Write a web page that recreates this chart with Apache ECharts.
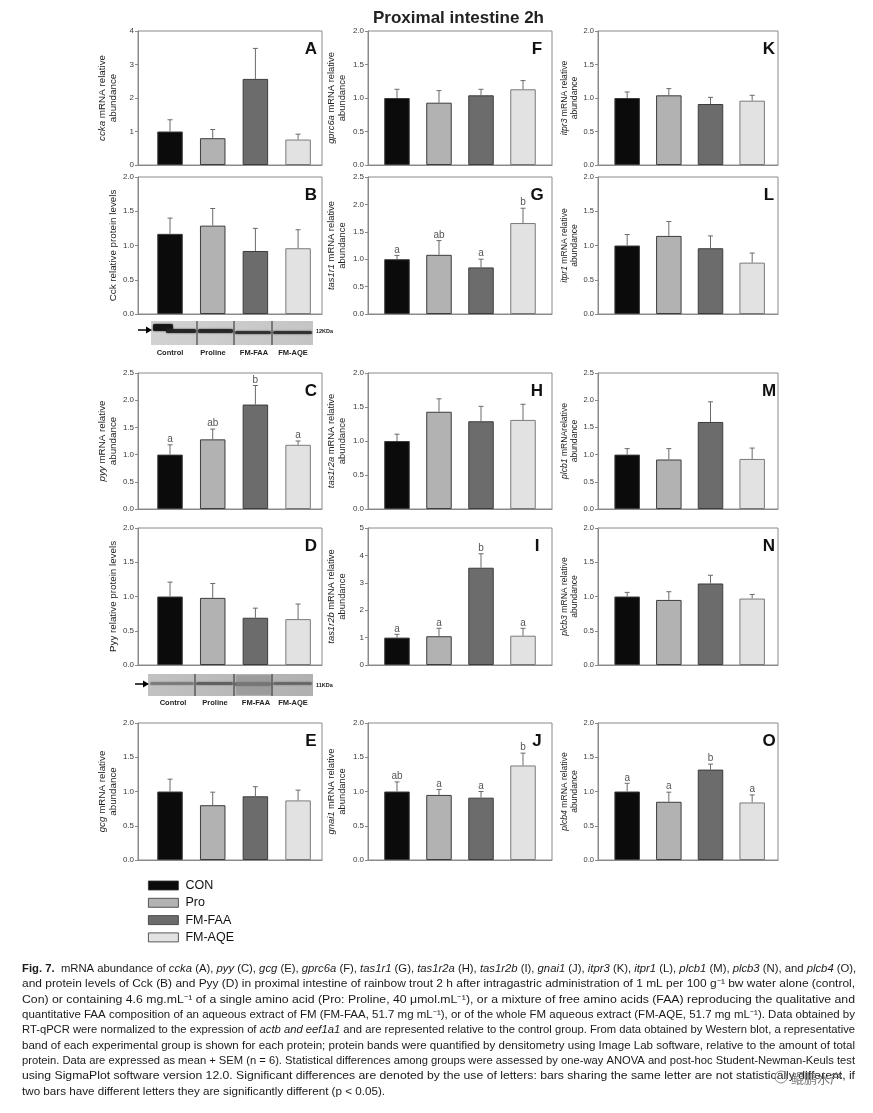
<!DOCTYPE html>
<html><head><meta charset="utf-8">
<script src="https://cdn.jsdelivr.net/npm/echarts@6/dist/echarts.min.js"></script>
<style>html,body{margin:0;padding:0;background:#fff}#c{width:873px;height:1113px}</style>
</head><body><div id="c"></div>
<script>
// ---------- data ----------
const groups = ['CON', 'Pro', 'FM-FAA', 'FM-AQE'];
const blotLanes = ['Control', 'Proline', 'FM-FAA', 'FM-AQE'];

const cckaMean = [1.00, 0.80, 2.57, 0.76];   const cckaSem = [0.35, 0.26, 0.91, 0.16];
const cckProtMean = [1.17, 1.29, 0.92, 0.96]; const cckProtSem = [0.23, 0.25, 0.33, 0.27];
const pyyMean = [1.00, 1.28, 1.92, 1.18];    const pyySem = [0.18, 0.19, 0.35, 0.07];
const pyyLetters = ['a', 'ab', 'b', 'a'];
const pyyProtMean = [1.00, 0.98, 0.69, 0.67]; const pyyProtSem = [0.21, 0.21, 0.14, 0.22];
const gcgMean = [1.00, 0.80, 0.93, 0.87];    const gcgSem = [0.18, 0.19, 0.14, 0.15];
const gprc6aMean = [1.00, 0.93, 1.04, 1.13]; const gprc6aSem = [0.13, 0.18, 0.09, 0.13];
const tas1r1Mean = [1.00, 1.08, 0.85, 1.66]; const tas1r1Sem = [0.07, 0.26, 0.15, 0.27];
const tas1r1Letters = ['a', 'ab', 'a', 'b'];
const tas1r2aMean = [1.00, 1.43, 1.29, 1.31]; const tas1r2aSem = [0.10, 0.19, 0.22, 0.23];
const tas1r2bMean = [1.00, 1.05, 3.55, 1.07]; const tas1r2bSem = [0.12, 0.29, 0.51, 0.27];
const tas1r2bLetters = ['a', 'a', 'b', 'a'];
const gnai1Mean = [1.00, 0.95, 0.91, 1.38];  const gnai1Sem = [0.14, 0.08, 0.09, 0.18];
const gnai1Letters = ['ab', 'a', 'a', 'b'];
const itpr3Mean = [1.00, 1.04, 0.91, 0.96];  const itpr3Sem = [0.09, 0.10, 0.10, 0.08];
const itpr1Mean = [1.00, 1.14, 0.96, 0.75];  const itpr1Sem = [0.16, 0.21, 0.18, 0.14];
const plcb1Mean = [1.00, 0.91, 1.60, 0.92];  const plcb1Sem = [0.11, 0.20, 0.37, 0.20];
const plcb3Mean = [1.00, 0.95, 1.19, 0.97];  const plcb3Sem = [0.06, 0.12, 0.12, 0.06];
const plcb4Mean = [1.00, 0.85, 1.32, 0.84];  const plcb4Sem = [0.12, 0.14, 0.08, 0.11];
const plcb4Letters = ['a', 'a', 'b', 'a'];

const yMaxA = 4, yMaxI = 5;

const captionLines = [
  '{b|Fig. 7.}  mRNA abundance of {i|ccka} (A), {i|pyy} (C), {i|gcg} (E), {i|gprc6a} (F), {i|tas1r1} (G), {i|tas1r2a} (H), {i|tas1r2b} (I), {i|gnai1} (J), {i|itpr3} (K), {i|itpr1} (L), {i|plcb1} (M), {i|plcb3} (N), and {i|plcb4} (O),',
  'and protein levels of Cck (B) and Pyy (D) in proximal intestine of rainbow trout 2 h after intragastric administration of 1 mL per 100 g⁻¹ bw water alone (control,',
  'Con) or containing 4.6 mg.mL⁻¹ of a single amino acid (Pro: Proline, 40 μmol.mL⁻¹), or a mixture of free amino acids (FAA) reproducing the qualitative and',
  'quantitative FAA composition of an aqueous extract of FM (FM-FAA, 51.7 mg mL⁻¹), or of the whole FM aqueous extract (FM-AQE, 51.7 mg mL⁻¹). Data obtained by',
  'RT-qPCR were normalized to the expression of {i|actb and eef1a1} and are represented relative to the control group. From data obtained by Western blot, a representative',
  'band of each experimental group is shown for each protein; protein bands were quantified by densitometry using Image Lab software, relative to the amount of total',
  'protein. Data are expressed as mean + SEM (n = 6). Statistical differences among groups were assessed by one-way ANOVA and post-hoc Student-Newman-Keuls test',
  'using SigmaPlot software version 12.0. Significant differences are denoted by the use of letters: bars sharing the same letter are not statistically different, if',
  'two bars have different letters they are significantly different (p < 0.05).'
];

// ---------- styles / layout ----------
const F = "'Liberation Sans', Arial, sans-serif";
const fills = ['#0b0b0b', '#b2b2b2', '#6c6c6c', '#e2e2e2'];
const frameColor = '#8a8a8a';
const colLeft = [138, 368, 598];
const colRight = [322, 552, 778];
const colXRange = [[-0.75, 3.56], [-0.69, 3.69], [-0.70, 3.62]];
const colNameSize = [9.8, 9.4, 8.6];
const colNameGap = [19, 20, 18];
const colTickSize = [8, 8, 7.5];
const colLetterDx = [11, 15, 9];
const rowTop = [31, 177, 373, 528, 723];
const rowBottom = [165, 314, 509, 665, 860];

const panels = [
  {key: 'A', col: 0, row: 0, mean: cckaMean, sem: cckaSem, ymax: yMaxA, step: 1, name: '{i|ccka} mRNA relative\nabundance'},
  {key: 'B', col: 0, row: 1, mean: cckProtMean, sem: cckProtSem, ymax: 2, step: 0.5, name: 'Cck relative protein levels', prot: true},
  {key: 'C', col: 0, row: 2, mean: pyyMean, sem: pyySem, letters: pyyLetters, ymax: 2.5, step: 0.5, name: '{i|pyy} mRNA relative\nabundance'},
  {key: 'D', col: 0, row: 3, mean: pyyProtMean, sem: pyyProtSem, ymax: 2, step: 0.5, name: 'Pyy relative protein levels', prot: true},
  {key: 'E', col: 0, row: 4, mean: gcgMean, sem: gcgSem, ymax: 2, step: 0.5, name: '{i|gcg} mRNA relative\nabundance'},
  {key: 'F', col: 1, row: 0, mean: gprc6aMean, sem: gprc6aSem, ymax: 2, step: 0.5, name: '{i|gprc6a} mRNA relative\nabundance'},
  {key: 'G', col: 1, row: 1, mean: tas1r1Mean, sem: tas1r1Sem, letters: tas1r1Letters, ymax: 2.5, step: 0.5, name: '{i|tas1r1} mRNA relative\nabundance'},
  {key: 'H', col: 1, row: 2, mean: tas1r2aMean, sem: tas1r2aSem, ymax: 2, step: 0.5, name: '{i|tas1r2a} mRNA relative\nabundance'},
  {key: 'I', col: 1, row: 3, mean: tas1r2bMean, sem: tas1r2bSem, letters: tas1r2bLetters, ymax: yMaxI, step: 1, name: '{i|tas1r2b} mRNA relative\nabundance'},
  {key: 'J', col: 1, row: 4, mean: gnai1Mean, sem: gnai1Sem, letters: gnai1Letters, ymax: 2, step: 0.5, name: '{i|gnai1} mRNA relative\nabundance'},
  {key: 'K', col: 2, row: 0, mean: itpr3Mean, sem: itpr3Sem, ymax: 2, step: 0.5, name: '{i|itpr3} mRNA relative\nabundance'},
  {key: 'L', col: 2, row: 1, mean: itpr1Mean, sem: itpr1Sem, ymax: 2, step: 0.5, name: '{i|itpr1} mRNA relative\nabundance'},
  {key: 'M', col: 2, row: 2, mean: plcb1Mean, sem: plcb1Sem, ymax: 2.5, step: 0.5, name: '{i|plcb1} mRNArelative\nabundance'},
  {key: 'N', col: 2, row: 3, mean: plcb3Mean, sem: plcb3Sem, ymax: 2, step: 0.5, name: '{i|plcb3} mRNA relative\nabundance'},
  {key: 'O', col: 2, row: 4, mean: plcb4Mean, sem: plcb4Sem, letters: plcb4Letters, ymax: 2, step: 0.5, name: '{i|plcb4} mRNA relative\nabundance'}
];

const grids = [], xAxes = [], yAxes = [], series = [], graphics = [];

panels.forEach((p, k) => {
  const L = colLeft[p.col], R = colRight[p.col], T = rowTop[p.row], B = rowBottom[p.row];
  grids.push({left: L, top: T, width: R - L, height: B - T, show: true, borderColor: frameColor, borderWidth: 1, backgroundColor: 'transparent'});
  xAxes.push({gridIndex: k, type: 'value', min: colXRange[p.col][0], max: colXRange[p.col][1],
    axisLine: {show: true, onZero: false, lineStyle: {color: frameColor, width: 1}},
    axisTick: {show: false}, axisLabel: {show: false}, splitLine: {show: false}});
  const ns = p.prot ? 9.8 : colNameSize[p.col];
  yAxes.push({gridIndex: k, type: 'value', min: 0, max: p.ymax, interval: p.step,
    axisLine: {show: true, onZero: false, lineStyle: {color: frameColor, width: 1}},
    axisTick: {show: true, length: 3, lineStyle: {color: frameColor}},
    axisLabel: {fontSize: colTickSize[p.col], color: '#3a3a3a', fontFamily: F, margin: 4,
      formatter: v => p.step >= 1 ? String(v) : v.toFixed(1)},
    splitLine: {show: false},
    name: p.name, nameLocation: 'middle', nameRotate: 90, nameGap: p.prot ? 19 : colNameGap[p.col],
    nameTextStyle: {fontSize: ns, fontFamily: F, color: '#222', lineHeight: ns + 1.5,
      rich: {i: {fontStyle: 'italic', fontSize: ns, fontFamily: F, color: '#222', lineHeight: ns + 1.5}}}
  });
  series.push({type: 'bar', xAxisIndex: k, yAxisIndex: k, barWidth: 25.5, silent: true,
    itemStyle: {borderColor: '#3c3c3c', borderWidth: 1},
    data: p.mean.map((v, i) => ({value: [i, v], itemStyle: {color: fills[i], borderColor: i === 3 ? '#7a7a7a' : '#3c3c3c'}}))});
  const letters = p.letters;
  series.push({type: 'custom', xAxisIndex: k, yAxisIndex: k, silent: true, z: 5,
    data: p.mean.map((v, i) => [i, v, v + p.sem[i]]),
    encode: {x: 0, y: [1, 2]},
    renderItem: (params, api) => {
      const a = api.coord([api.value(0), api.value(1)]);
      const b = api.coord([api.value(0), api.value(2)]);
      const ch = [
        {type: 'line', shape: {x1: a[0], y1: a[1], x2: b[0], y2: b[1]}, style: {stroke: '#6a6a6a', lineWidth: 1}},
        {type: 'line', shape: {x1: b[0] - 2.5, y1: b[1], x2: b[0] + 2.5, y2: b[1]}, style: {stroke: '#6a6a6a', lineWidth: 1}}
      ];
      if (letters) ch.push({type: 'text', x: b[0], y: b[1] - 0.5,
        style: {text: letters[params.dataIndex], fontSize: 10, fontFamily: F, fill: '#555', align: 'center', verticalAlign: 'bottom'}});
      return {type: 'group', children: ch};
    }});
  graphics.push({type: 'text', x: R - colLetterDx[p.col], y: T + 18,
    style: {text: p.key, fontSize: 17, fontWeight: 'bold', fontFamily: F, fill: '#111', align: 'center', verticalAlign: 'middle'}});
});

// legend dummy series
groups.forEach((g, i) => series.push({type: 'line', name: g, xAxisIndex: 0, yAxisIndex: 0, data: [],
  itemStyle: {color: fills[i], borderColor: '#333', borderWidth: 0.8}, lineStyle: {color: fills[i]}}));

// ---------- western blot images ----------
function blot(x, y, w, h, seps, bands, arrowY, kda, labelY, labelX, dark) {
  graphics.push({type: 'rect', shape: {x, y, width: w, height: h},
    style: {fill: new echarts.graphic.LinearGradient(0, 0, 1, 1, [{offset: 0, color: dark ? '#c2c2c2' : '#d2d2d2'}, {offset: 1, color: dark ? '#b0b0b0' : '#c4c4c4'}])}});
  bands.forEach(b => graphics.push({type: 'rect', shape: {x: b[0], y: b[1], width: b[2], height: b[3], r: 1.5},
    style: {fill: b[4], opacity: b[5], shadowBlur: 2, shadowColor: b[4]}}));
  seps.forEach(sx => graphics.push({type: 'line', shape: {x1: sx, y1: y, x2: sx, y2: y + h}, style: {stroke: '#2a2a2a', lineWidth: 1}}));
  graphics.push({type: 'line', shape: {x1: x - 13, y1: arrowY, x2: x - 2, y2: arrowY}, style: {stroke: '#000', lineWidth: 1.5}});
  graphics.push({type: 'polygon', shape: {points: [[x + 1, arrowY], [x - 5, arrowY - 3.5], [x - 5, arrowY + 3.5]]}, style: {fill: '#000'}});
  graphics.push({type: 'text', x: x + w + 3, y: arrowY + 1, style: {text: kda, fontSize: 5.5, fontWeight: 'bold', fontFamily: F, fill: '#222', verticalAlign: 'middle'}});
  blotLanes.forEach((t, i) => graphics.push({type: 'text', x: labelX[i], y: labelY,
    style: {text: t, fontSize: 7.5, fontWeight: 'bold', fontFamily: F, fill: '#222', align: 'center', verticalAlign: 'middle'}}));
}
blot(151, 321, 162, 24, [197, 234, 272],
  [[153, 324, 20, 7, '#151515', 0.9], [166, 329, 30, 4, '#222', 0.9], [198, 329, 35, 4, '#222', 0.85],
   [235, 331, 36, 3, '#2a2a2a', 0.85], [273, 331, 39, 3, '#2a2a2a', 0.85]],
  330, '12KDa', 353, [170, 213, 254, 293], false);
blot(148, 674, 165, 22, [195, 234, 272],
  [[150, 682, 44, 3, '#6a6a6a', 0.6], [196, 682, 37, 3, '#555', 0.75], [235, 682, 36, 4, '#4a4a4a', 0.6],
   [273, 682, 39, 3, '#555', 0.6], [236, 675, 35, 20, '#8a8a8a', 0.35]],
  684, '11KDa', 703, [173, 215, 256, 293], true);

// ---------- caption ----------
const CAP = 11;
const ctx = document.createElement('canvas').getContext('2d');
ctx.font = CAP + "px 'Liberation Sans'";
const capRich = {
  b: {fontWeight: 'bold', fontSize: CAP, fontFamily: F, fill: '#1a1a1a'},
  i: {fontStyle: 'italic', fontSize: CAP, fontFamily: F, fill: '#1a1a1a'}
};
const capScales = captionLines.map(line => 833 / ctx.measureText(line.replace(/\{[bi]\|([^}]*)\}/g, '$1')).width);
const fullScales = capScales.slice(0, -1);
const meanScale = fullScales.reduce((a, b) => a + b, 0) / fullScales.length;
captionLines.forEach((line, i) => {
  const s = i < captionLines.length - 1 ? capScales[i] : meanScale;
  graphics.push({type: 'text', x: 22, y: 969 + i * 15.35, scaleX: s,
    style: {text: line, fontSize: CAP, fontFamily: F, fill: '#1a1a1a', verticalAlign: 'middle', rich: capRich}});
});
// watermark
graphics.push({type: 'circle', shape: {cx: 781, cy: 1077, r: 6}, style: {fill: 'none', stroke: '#888', lineWidth: 1}});
graphics.push({type: 'text', x: 791, y: 1078, style: {text: '鲲鹏水产', fontSize: 13, fontFamily: "'Noto Sans CJK SC'", fill: '#777', verticalAlign: 'middle'}});

const chart = echarts.init(document.getElementById('c'), null, {renderer: 'canvas'});
chart.setOption({
  animation: false,
  backgroundColor: '#fff',
  title: {text: 'Proximal intestine 2h', left: 368, top: 5, textStyle: {fontSize: 17, fontWeight: 'bold', fontFamily: F, color: '#222'}},
  legend: {data: groups, orient: 'vertical', left: 143, top: 874, icon: 'rect', itemWidth: 30, itemHeight: 9, itemGap: 4.3,
    itemStyle: {borderColor: '#333', borderWidth: 0.8},
    textStyle: {fontSize: 12.5, fontFamily: F, color: '#111', padding: [0, 0, 0, 2]}, selectedMode: false},
  grid: grids, xAxis: xAxes, yAxis: yAxes, series: series, graphic: graphics
});
</script></body></html>
